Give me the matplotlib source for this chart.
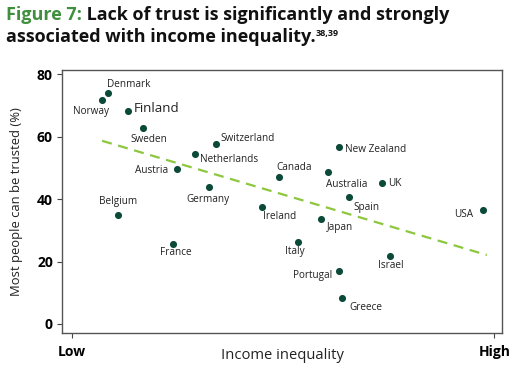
import matplotlib
matplotlib.use("Agg")
import matplotlib.pyplot as plt

countries = ["Denmark", "Norway", "Finland", "Sweden", "Switzerland", "Netherlands",
             "Austria", "Germany", "Belgium", "France", "Canada", "New Zealand",
             "Australia", "UK", "Spain", "USA", "Ireland", "Japan", "Italy",
             "Israel", "Portugal", "Greece"]
inequality = [0.087, 0.072, 0.132, 0.168, 0.341, 0.292, 0.248, 0.324, 0.109, 0.239,
              0.490, 0.633, 0.607, 0.735, 0.657, 0.972, 0.450, 0.590, 0.536,
              0.753, 0.633, 0.640]
trust = [74.1, 71.8, 68.4, 62.7, 57.8, 54.5, 49.6, 44.0, 34.9, 25.7,
         47.1, 56.6, 48.7, 45.1, 40.6, 36.6, 37.4, 33.8, 26.3,
         21.8, 16.9, 8.3]
trend_x = [0.072, 0.982]
trend_y = [58.7, 22.1]
y_ticks = [0, 20, 40, 60, 80]
x_tick_labels = ["Low", "High"]
x_tick_pos = [0.0, 1.0]

# label offsets (pixels) and alignment
label_style = {
    "Denmark": (-1, 8, "left"), "Norway": (7, -12, "right"), "Finland": (6, 2, "left"),
    "Sweden": (6, -11, "center"), "Switzerland": (5, 5, "left"),
    "Netherlands": (5, -6, "left"), "Austria": (-8, -1, "right"),
    "Germany": (-1, -13, "center"), "Belgium": (0, 14, "center"),
    "France": (3, -9, "center"), "Canada": (15, 10, "center"),
    "New Zealand": (6, -2, "left"), "Australia": (18, -12, "center"),
    "UK": (6, 0, "left"), "Spain": (17, -10, "center"), "USA": (-9, -5, "right"),
    "Ireland": (1, -9, "left"), "Japan": (19, -9, "center"), "Italy": (-3, -10, "center"),
    "Israel": (1, -10, "center"), "Portugal": (-7, -4, "right"), "Greece": (24, -9, "center"),
}

DOT = "#0b4a38"
LINE = "#8dc63f"
GREEN_T = "#3f8f3f"
FONT = "Open Sans"

plt.rcParams["font.family"] = [FONT, "DejaVu Sans"]

fig = plt.figure(figsize=(5.25, 3.7), dpi=100)
ax = fig.add_axes([62/525, 1-333/370, 440/525, 263/370])

ax.plot(trend_x, trend_y, color=LINE, lw=1.6, dashes=(4.5, 3), zorder=1)
ax.scatter(inequality, trust, s=26, color=DOT, zorder=3, linewidths=0)

for c, x, y in zip(countries, inequality, trust):
    dx, dy, ha = label_style[c]
    fs = 9.6 if c == "Finland" else 7.2
    ax.annotate(c, (x, y), xytext=(dx, dy), textcoords="offset pixels",
                ha=ha, va="center", fontsize=fs, color="#222222")

ax.set_xlim(-0.023, 1.018)
ax.set_ylim(-2.9, 81.4)
ax.set_yticks(y_ticks)
ax.set_yticklabels([str(v) for v in y_ticks], fontweight="bold", fontsize=10)
ax.set_xticks(x_tick_pos)
ax.set_xticklabels(x_tick_labels, fontweight="bold", fontsize=10)
ax.tick_params(axis="both", direction="out", length=3.5, width=0.8, color="#444444", pad=3)
ax.tick_params(axis="x", pad=5)
for s in ax.spines.values():
    s.set_color("#555555")
    s.set_linewidth(1.0)

ax.set_ylabel("Most people can be trusted (%)", fontsize=9.4, color="#222222", labelpad=10)
ax.set_xlabel("Income inequality", fontsize=10.6, color="#222222", labelpad=-8)

ax2 = fig.add_axes([0, 0, 1, 1], facecolor="none")
ax2.axis("off")
TS = 13
t1 = fig.text(6/525, 1-20/370, "Figure 7:", fontsize=TS, fontweight="bold",
              color=GREEN_T, va="baseline", ha="left")
ax2.annotate(" Lack of trust is significantly and strongly", xy=(1, 0), xycoords=t1,
             ha="left", va="bottom", fontsize=TS, fontweight="bold", color="#111111")
t3 = fig.text(6/525, 1-42/370, "associated with income inequality.", fontsize=TS,
              fontweight="bold", color="#111111", va="baseline", ha="left")
ax2.annotate("38,39", xy=(1, 0.42), xycoords=t3, ha="left", va="bottom",
             fontsize=6.5, fontweight="bold", color="#111111")

fig.savefig("out.png", dpi=100)
